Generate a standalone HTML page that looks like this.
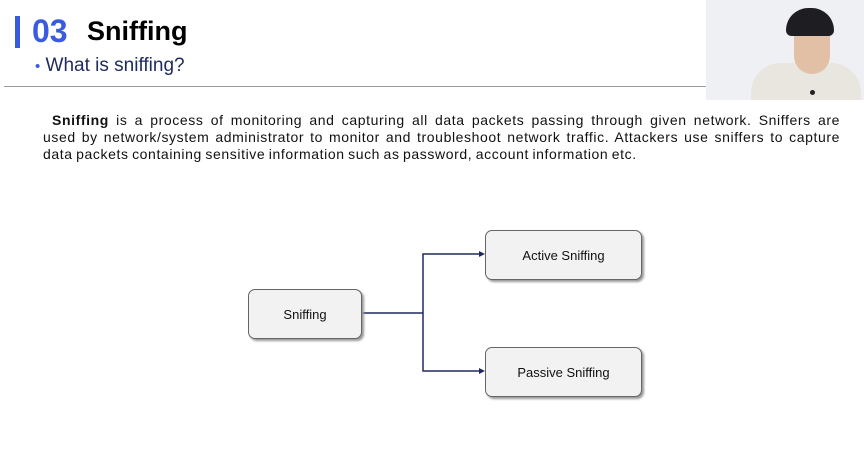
<!DOCTYPE html>
<html><head><meta charset="utf-8"><style>
body{margin:0;width:864px;height:456px;background:#fff;position:relative;overflow:hidden;font-family:"Liberation Sans",Arial,sans-serif}
.a{position:absolute}
.p{left:43px;top:112px;width:797px;font-size:14px;letter-spacing:0.6px;word-spacing:-1px;line-height:17px;color:#111}
.p div{text-align:justify;text-align-last:justify;white-space:nowrap}
.p div.l{text-align-last:left}
.box{position:absolute;background:#f2f2f2;border:1px solid #666;border-radius:7px;box-shadow:2px 2px 2px #999;font-size:13px;color:#111;display:flex;align-items:center;justify-content:center}
</style></head><body>
<div class="a" style="left:15px;top:16px;width:5px;height:32px;background:#3a5be0"></div>
<div class="a" style="left:32px;top:13px;font-size:32px;font-weight:bold;color:#3a5be0">03</div>
<div class="a" style="left:87px;top:16px;font-size:27px;font-weight:bold;color:#000">Sniffing</div>
<div class="a" style="left:35px;top:55px;font-size:19px;color:#1e2a5a"><span style="color:#3a5be0;font-size:15px">•</span> What is sniffing?</div>
<div class="a" style="left:4px;top:86px;width:702px;height:1px;background:#999"></div>
<div class="a" style="left:706px;top:0;width:158px;height:100px;background:#eef0f3;overflow:hidden">
<div class="a" style="left:45px;top:63px;width:110px;height:50px;background:#e8e6de;border-radius:30px 30px 0 0"></div>
<div class="a" style="left:88px;top:24px;width:36px;height:50px;background:#e2c0a6;border-radius:12px 12px 18px 18px"></div>
<div class="a" style="left:80px;top:8px;width:48px;height:28px;background:#1e1e22;border-radius:24px 24px 6px 6px"></div>
<div class="a" style="left:104px;top:90px;width:5px;height:5px;background:#222;border-radius:3px"></div>
</div>
<div class="a p">
<div><span style="padding-left:9px"></span><b>Sniffing</b> is a process of monitoring and capturing all data packets passing through given network. Sniffers are</div>
<div>used by network/system administrator to monitor and troubleshoot network traffic. Attackers use sniffers to capture</div>
<div class="l">data packets containing sensitive information such as password, account information etc.</div>
</div>
<svg class="a" style="left:0;top:0" width="864" height="456">
<g stroke="#1f2a5c" stroke-width="1.5" fill="none">
<path d="M361 313H423V254H480M423 313V371H480"/>
</g>
<path d="M485 254l-6-3v6zM485 371l-6-3v6z" fill="#1f2a5c"/>
</svg>
<div class="box" style="left:248px;top:289px;width:112px;height:48px">Sniffing</div>
<div class="box" style="left:485px;top:230px;width:155px;height:48px">Active Sniffing</div>
<div class="box" style="left:485px;top:347px;width:155px;height:48px">Passive Sniffing</div>
</body></html>
